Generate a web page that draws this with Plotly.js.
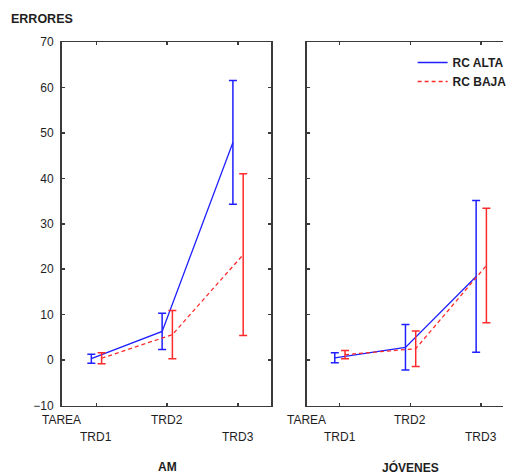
<!DOCTYPE html>
<html>
<head>
<meta charset="utf-8">
<script src="https://cdn.plot.ly/plotly-3.0.1.min.js"></script>
<style>html,body{margin:0;padding:0;background:#fff;}#chart{width:512px;height:474px;}</style>
</head>
<body>
<div id="chart"></div>
<script>
// ---- data ----
const tasks = ['TRD1', 'TRD2', 'TRD3'];
const groups = ['AM', 'JÓVENES'];
const seriesNames = ['RC ALTA', 'RC BAJA'];
const yTicks = [-10, 0, 10, 20, 30, 40, 50, 60, 70];

const amAltaMean = [0.3, 6.3, 47.9];
const amAltaErr  = [1.0, 4.0, 13.6];
const amBajaMean = [0.4, 5.6, 23.2];
const amBajaErr  = [1.2, 5.3, 17.8];

const jovAltaMean = [0.5, 2.8, 18.4];
const jovAltaErr  = [1.1, 5.0, 16.7];
const jovBajaMean = [1.2, 2.5, 20.8];
const jovBajaErr  = [0.9, 3.9, 12.6];

// ---- styling ----
const BLUE = '#1f1fff';
const RED = '#ff2a2a';
const AXC = '#3a3a3a';
const FONT = 'Arial, "Liberation Sans", sans-serif';
const TXT = '#1e1e1e';
const dodge = [-0.07, 0.075];
const idx = tasks.map((_, i) => i);

function tr(mean, err, s, xa, ya, show) {
  const color = s === 0 ? BLUE : RED;
  return {
    type: 'scatter', mode: 'lines',
    x: idx.map(i => i + dodge[s]), y: mean,
    xaxis: xa, yaxis: ya,
    name: seriesNames[s], showlegend: show, legendgroup: seriesNames[s],
    line: {color: color, width: 1.3, dash: s === 0 ? 'solid' : '4px,3px'},
    error_y: {type: 'data', array: err, visible: true, color: color, thickness: 1.5, width: 4},
    hoverinfo: 'skip'
  };
}

const data = [
  tr(amAltaMean, amAltaErr, 0, 'x', 'y', true),
  tr(amBajaMean, amBajaErr, 1, 'x', 'y', true),
  tr(jovAltaMean, jovAltaErr, 0, 'x2', 'y2', false),
  tr(jovBajaMean, jovBajaErr, 1, 'x2', 'y2', false)
];

const W = 512, H = 474;
const px = v => v / W;
const py = v => 1 - v / H;

const xCommon = {
  tickmode: 'array', tickvals: idx, ticktext: tasks.map(() => ''),
  ticks: 'inside', ticklen: 3, tickwidth: 1.5, tickcolor: AXC,
  showline: true, linecolor: AXC, linewidth: 1.5,
  showgrid: false, zeroline: false, fixedrange: true
};
const yCommon = {
  range: [-10, 70], tickmode: 'array', tickvals: yTicks,
  ticks: 'inside', ticklen: 3, tickwidth: 1.5, tickcolor: AXC,
  showline: true, linecolor: AXC, linewidth: 1.5,
  showgrid: false, zeroline: false, fixedrange: true,
  domain: [py(405.5), py(42)]
};

const annotations = [];
const xrefs = ['x', 'x2'];
xrefs.forEach((xr, g) => {
  annotations.push({xref: xr + ' domain', yref: 'paper', x: 0, y: py(420), text: 'TAREA',
    showarrow: false, xanchor: 'center', yanchor: 'middle', font: {family: FONT, size: 12, color: TXT}});
  tasks.forEach((t, i) => {
    annotations.push({xref: xr, yref: 'paper', x: i, y: i % 2 === 1 ? py(420) : py(437), text: t,
      showarrow: false, xanchor: 'center', yanchor: 'middle', font: {family: FONT, size: 12, color: TXT}});
  });
  annotations.push({xref: xr, yref: 'paper', x: 1, y: py(467), text: '<b>' + groups[g] + '</b>',
    showarrow: false, xanchor: 'center', yanchor: 'middle', font: {family: FONT, size: 12, color: TXT}});
});
annotations.push({xref: 'paper', yref: 'paper', x: px(9), y: py(19), text: '<b>ERRORES</b>',
  showarrow: false, xanchor: 'left', yanchor: 'middle', font: {family: FONT, size: 12.5, color: TXT}});

const layout = {
  width: W, height: H,
  margin: {l: 0, r: 0, t: 0, b: 0},
  paper_bgcolor: '#ffffff', plot_bgcolor: '#ffffff',
  font: {family: FONT, size: 12, color: TXT},
  xaxis: Object.assign({}, xCommon, {domain: [px(62.7), px(276)], range: [-0.49, 2.47], anchor: 'y', mirror: 'ticks'}),
  yaxis: Object.assign({}, yCommon, {anchor: 'x', mirror: 'ticks', ticklabelstandoff: 4,
    tickfont: {family: FONT, size: 12, color: TXT}}),
  xaxis2: Object.assign({}, xCommon, {domain: [px(312), 1], range: [-0.47, 2.31], anchor: 'y2', mirror: 'ticks'}),
  yaxis2: Object.assign({}, yCommon, {anchor: 'x2', showticklabels: false, mirror: false}),
  showlegend: true,
  legend: {x: px(420), y: py(48), xanchor: 'left', yanchor: 'top', bgcolor: 'rgba(0,0,0,0)',
    font: {family: FONT, size: 12, color: TXT, weight: 'bold'}, itemwidth: 30, tracegroupgap: 0},
  annotations: annotations
};

Plotly.newPlot('chart', data, layout, {staticPlot: true, displayModeBar: false});
</script>
</body>
</html>
